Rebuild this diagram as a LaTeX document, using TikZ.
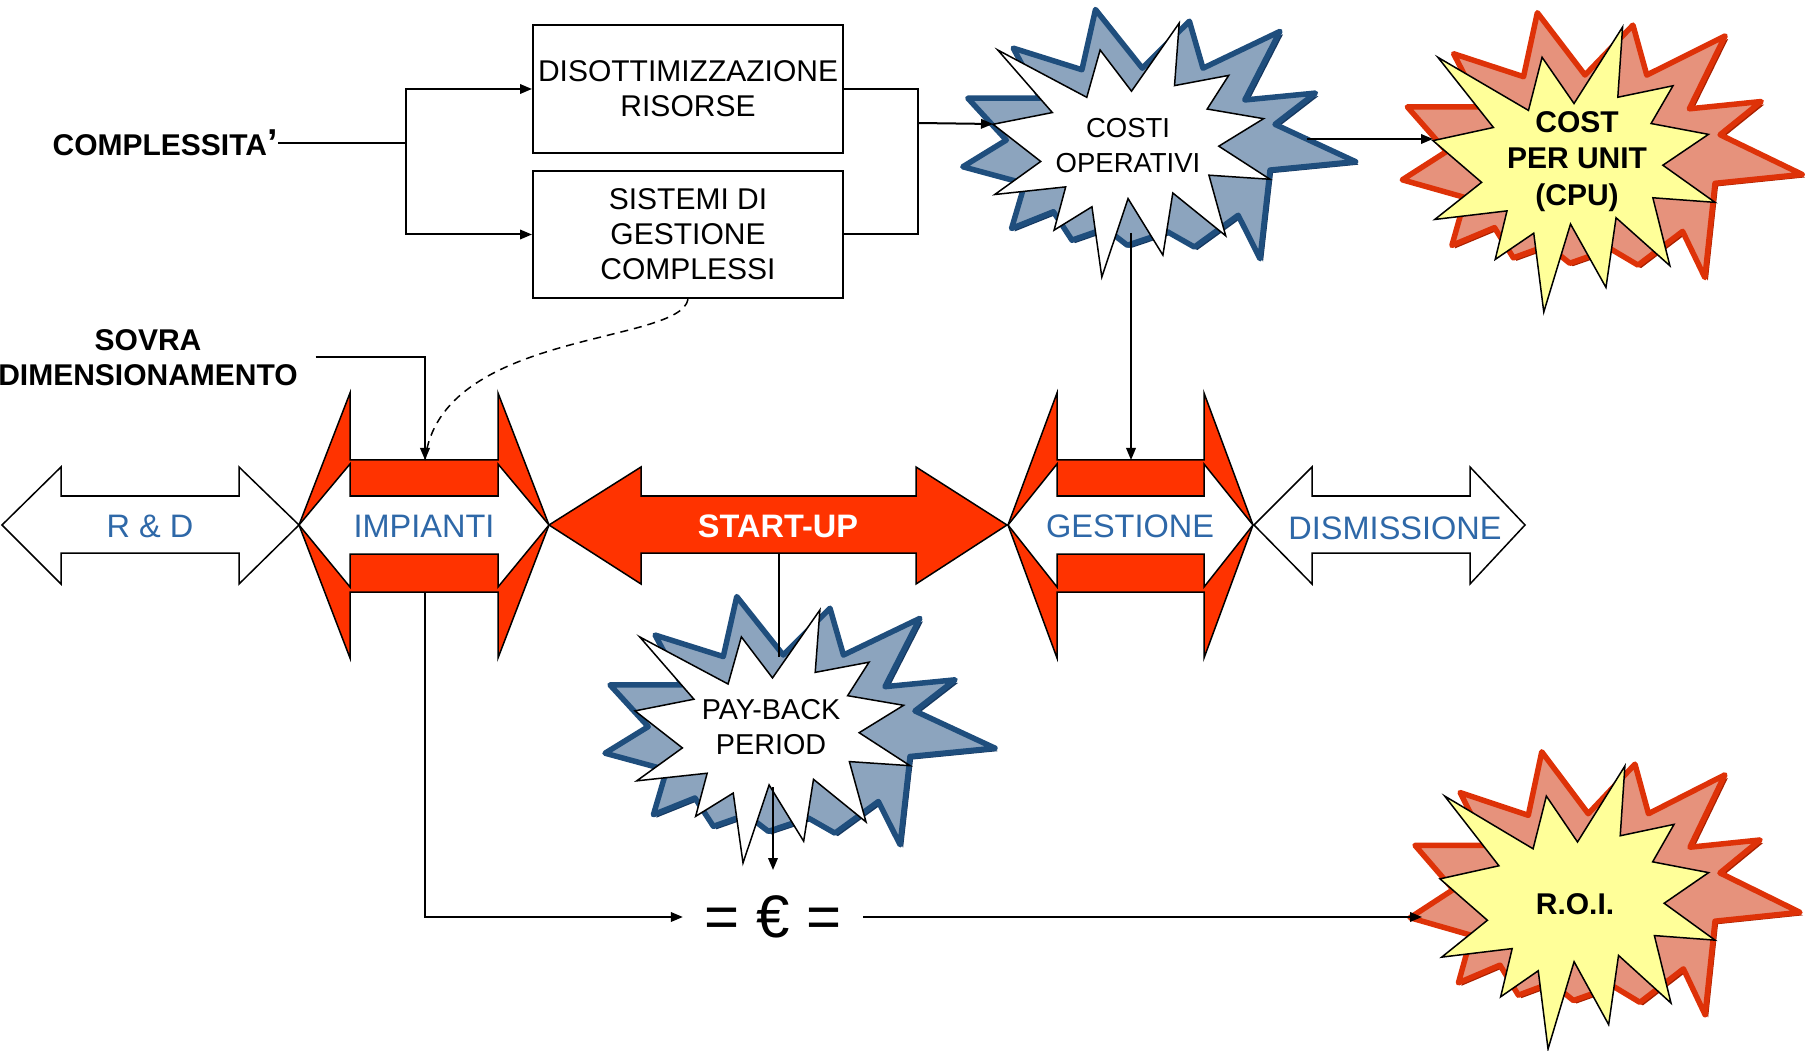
\documentclass[tikz,border=0pt]{standalone}
\usepackage{fontspec}
\setmainfont{Liberation Sans}
\usetikzlibrary{arrows.meta, positioning}
\definecolor{startred}{RGB}{255,51,0}
\definecolor{phaseblue}{RGB}{46,104,168}
\definecolor{boomfill}{RGB}{140,164,190}
\definecolor{boomedge}{RGB}{31,78,125}
\definecolor{boomdark}{RGB}{22,56,96}
\definecolor{hotfill}{RGB}{230,146,124}
\definecolor{hotedge}{RGB}{222,50,8}
\definecolor{hotdark}{RGB}{168,32,0}
\definecolor{hotyellow}{RGB}{255,255,153}
\tikzset{textbox/.style={draw=black, line width=0.8pt, fill=white, minimum width=124pt, minimum height=51pt, inner sep=0pt, align=center, font=\fontsize{12}{14}\selectfont},sidelabel/.style={inner sep=0pt, align=center, font=\bfseries\fontsize{12}{14}\selectfont}}
\tikzset{phaselabel/.style={inner sep=0pt, text=phaseblue, font=\fontsize{13}{15}\selectfont},startlabel/.style={inner sep=0pt, text=white, font=\bfseries\fontsize{13}{15}\selectfont}}
\tikzset{boomlabel/.style={inner sep=0pt, align=center, font=\fontsize{11}{14}\selectfont},hotlabel/.style={inner sep=0pt, align=center, font=\bfseries\fontsize{12}{14.6}\selectfont}}
\tikzset{boomshadow/.style={fill=boomfill, draw=boomedge, line width=2.2pt, line join=round},hotshadow/.style={fill=hotfill, draw=hotedge, line width=2.2pt, line join=round},boomfront/.style={draw=black, line width=0.6pt}}
% seal outline on a 100 x 100 grid
\def\sealpath{(50,26.85) -- (67.23,0) -- (65.53,24.65) -- (85.09,20.63) -- (77.32,33.87) -- (97.67,37.67) -- (81.51,48.5) -- (100,61.53) -- (77.95,59.92) -- (84,83.77) -- (64.91,66.93) -- (61.33,91.38) -- (48.76,69.14) -- (39.28,100) -- (35.72,72.35) -- (22.05,81.56) -- (26.24,64.52) -- (0.63,67.53) -- (17.23,54.51) -- (0,39.88) -- (21.42,35.26) -- (1.71,10.63) -- (33.85,29.26) -- (38.67,10.63) -- cycle}
% the tilted copy behind it, same grid
\def\shadowpath{(7.3,9.9) -- (32.1,18.4) -- (37,-5.3) -- (53.9,17.8) -- (70.9,-0.7) -- (75.8,17.8) -- (103.6,3.3) -- (90.9,30.3) -- (116.4,27.6) -- (101.8,39.9) -- (130.9,54.6) -- (100,57.9) -- (96.4,92.8) -- (88.5,75.7) -- (72.7,88.2) -- (63,82.2) -- (48.5,87.5) -- (40.6,80.9) -- (28.5,85.5) -- (21.8,74.3) -- (6.7,80.9) -- (11.5,63.2) -- (-10.9,56.6) -- (4.8,46.1) -- (-9.1,29.6) -- (17,29.6) -- cycle}

\begin{document}
\begin{tikzpicture}[
        x=0.4pt, y=-0.4pt,
        link/.style={line width=0.8pt},
        arrowlink/.style={line width=0.8pt, -{Triangle[length=4.8pt, width=3.8pt]}},
        dashlink/.style={line width=0.6pt, dash pattern=on 3.2pt off 2.4pt},
        phasearrow/.style={fill=white, draw=black, line width=0.6pt},
        startarrow/.style={fill=startred, draw=black, line width=0.6pt},
    ]
        \useasboundingbox (0,0) rectangle (1805,1051);
        % Phases
        \foreach \a/\b/\c/\d in {2/61/239/299, 1254/1312/1470/1525} {
            \draw[phasearrow] (\a,525) -- (\b,467) -- (\b,496) -- (\c,496) -- (\c,467) -- (\d,525) -- (\c,584) -- (\c,553) -- (\b,553) -- (\b,584) -- cycle;
        }
        \draw[startarrow] (549,525) -- (641,467) -- (641,496) -- (916,496) -- (916,467) -- (1007,525) -- (916,584) -- (916,553) -- (641,553) -- (641,584) -- cycle;
        \foreach \a/\b/\c/\d in {299/350/498/549, 1008/1057/1204/1253} {
            \draw[startarrow] (\b,393) -- (\b,460) -- (\c,460) -- (\c,393) -- (\d,525) -- (\c,658) -- (\c,592) -- (\b,592) -- (\b,658) -- (\a,525) -- cycle;
            \draw[phasearrow] (\a,525) -- (\b,464) -- (\b,496) -- (\c,496) -- (\c,464) -- (\d,525) -- (\c,587) -- (\c,554) -- (\b,554) -- (\b,587) -- cycle;
        }
        % Explosions
        \fill[boomdark, shift={(996,26)}, xscale=2.77, yscale=2.54] \shadowpath;
        \draw[boomshadow, shift={(993,23)}, xscale=2.77, yscale=2.54] \shadowpath;
        \draw[boomfront, fill=white, shift={(993,23)}, xscale=2.77, yscale=2.54] \sealpath;
        \fill[boomdark, shift={(638,613)}, xscale=2.75, yscale=2.53] \shadowpath;
        \draw[boomshadow, shift={(635,610)}, xscale=2.75, yscale=2.53] \shadowpath;
        \draw[boomfront, fill=white, shift={(635,610)}, xscale=2.75, yscale=2.53] \sealpath;
        \fill[hotdark, shift={(1436,30)}, xscale=2.82, yscale=2.70] \shadowpath;
        \draw[hotshadow, shift={(1433,27)}, xscale=2.82, yscale=2.70] \shadowpath;
        \draw[boomfront, fill=hotyellow, shift={(1433,27)}, xscale=2.82, yscale=2.85] \sealpath;
        \fill[hotdark, shift={(1443,769)}, xscale=2.75, yscale=2.68] \shadowpath;
        \draw[hotshadow, shift={(1440,766)}, xscale=2.75, yscale=2.68] \shadowpath;
        \draw[boomfront, fill=hotyellow, shift={(1440,766)}, xscale=2.75, yscale=2.83] \sealpath;
        % Nodes
        \node[textbox] (risorse) at (688,89) {DISOTTIMIZZAZIONE\\RISORSE};
        \node[textbox] (sistemi) at (688,234.5) {SISTEMI DI\\GESTIONE\\COMPLESSI};
        \node[sidelabel, anchor=east] (complex) at (278,143) {COMPLESSITA{\fontsize{15}{14}\selectfont ’}};
        \node[sidelabel] (sovra) at (148,357.5) {SOVRA\\DIMENSIONAMENTO};
        \node[phaselabel] (rd) at (150,526) {R \& D};
        \node[phaselabel] (impianti) at (424,526) {IMPIANTI};
        \node[startlabel] (startup) at (778,526) {START-UP};
        \node[phaselabel] (gestione) at (1130,526) {GESTIONE};
        \node[phaselabel] (dismissione) at (1395,528) {DISMISSIONE};
        \node[boomlabel] (costi) at (1128,145.5) {COSTI\\OPERATIVI};
        \node[hotlabel] (cpu) at (1577,161.5) {COST\\PER UNIT\\(CPU)};
        \node[boomlabel, font=\fontsize{11.5}{14}\selectfont] (payback) at (771,727.5) {PAY-BACK\\PERIOD};
        \node[hotlabel] (roi) at (1575,904) {R.O.I.};
        \node[inner xsep=8.5pt, inner ysep=0pt, font=\fontsize{24}{24}\selectfont] (euro) at (773,917) {= € =};
        % Anchors
        \coordinate (split) at (406,143);
        \coordinate (merge) at (918,123);
        \coordinate (costi-w) at (993,124);
        \coordinate (costi-e) at (1307,139);
        \coordinate (costi-s) at (1131,233);
        \coordinate (cpu-w) at (1433,139);
        \coordinate (payback-n) at (779,657);
        \coordinate (payback-s) at (773,787);
        \coordinate (euro-n) at (773,870);
        \coordinate (roi-w) at (1422,917);
        \coordinate (impianti-n) at (425,460);
        \coordinate (impianti-s) at (425,592);
        \coordinate (gestione-n) at (1131,460);
        \coordinate (startup-s) at (779,553);
        % Connectors
        \draw[link] (complex.east) -- (split);
        \draw[arrowlink] (split) |- (risorse.west);
        \draw[arrowlink] (split) |- (sistemi.west);
        \draw[link] (risorse.east) -| (merge);
        \draw[link] (sistemi.east) -| (merge);
        \draw[arrowlink] (merge) -- (costi-w);
        \draw[arrowlink] (costi-e) -- (cpu-w);
        \draw[arrowlink] (costi-s) -- (gestione-n);
        \draw[arrowlink] ([xshift=7pt]sovra.east) -| (impianti-n);
        \draw[dashlink] (sistemi.south) .. controls (680,345) and (440,330) .. (impianti-n);
        \draw[link] (startup-s) -- (payback-n);
        \draw[arrowlink] (payback-s) -- (euro-n);
        \draw[arrowlink] (impianti-s) |- (euro.west);
        \draw[arrowlink] (euro.east) -- (roi-w);
    \end{tikzpicture}
\end{document}
